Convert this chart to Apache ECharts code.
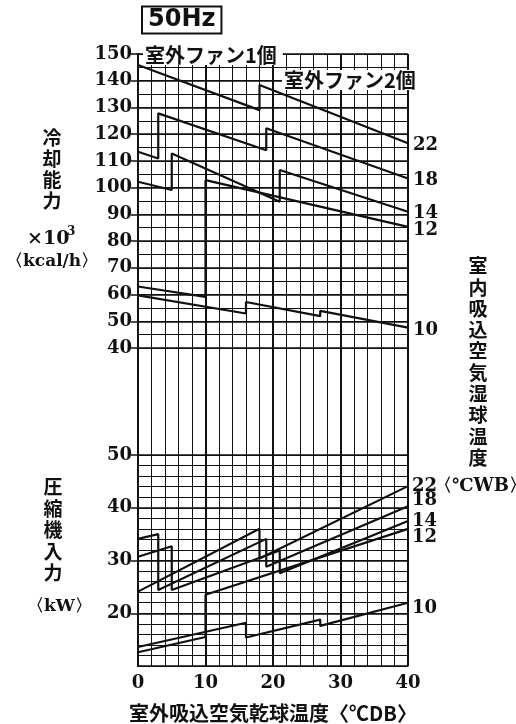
<!DOCTYPE html>
<html>
<head>
<meta charset="utf-8">
<script src="https://cdn.jsdelivr.net/npm/echarts@6/dist/echarts.min.js"></script>
<style>
  html, body { margin: 0; padding: 0; background: #fff; }
  #chart { width: 516px; height: 724px; }
</style>
</head>
<body>
<div id="chart"></div>
<script>
// Outdoor intake dry-bulb temperature (°CDB)
const xTicks = [0, 10, 20, 30, 40];

// Cooling capacity (×10^3 kcal/h) per indoor wet-bulb temperature, [°CDB, value]
const cap22 = [[0, 145.9], [18, 129.0], [18, 138.4], [40, 116.6]];
const cap18 = [[0, 113.4], [3, 110.9], [3, 127.8], [19, 114.0], [19, 122.2], [40, 103.4]];
const cap14 = [[0, 102.2], [5, 99.1], [5, 112.8], [21, 94.7], [21, 106.6], [40, 91.0]];
const cap12 = [[0, 63.0], [10, 59.1], [10, 102.8], [40, 85.3]];
const cap10 = [[0, 59.7], [16, 52.9], [16, 57.2], [27, 51.9], [27, 53.9], [40, 47.6]];

// Compressor input (kW) per indoor wet-bulb temperature, [°CDB, value]
const pow22 = [[0, 24.1], [18, 36.0], [18, 30.4], [40, 44.1]];
const pow18 = [[0, 34.1], [3, 35.0], [3, 24.4], [19, 34.1], [19, 28.8], [40, 40.3]];
const pow14 = [[0, 30.7], [5, 32.7], [5, 24.4], [21, 31.9], [21, 27.6], [40, 37.5]];
const pow12 = [[0, 12.6], [10, 15.5], [10, 23.5], [40, 36.0]];
const pow10 = [[0, 13.6], [16, 18.2], [16, 15.4], [27, 18.8], [27, 17.6], [40, 22.0]];

const capTicks = [150, 140, 130, 120, 110, 100, 90, 80, 70, 60, 50, 40];
const powTicks = [50, 40, 30, 20];
const wbLabels = ['22', '18', '14', '12', '10'];

const INK = '#111';
const NUM_FONT = 'DejaVu Serif';
const JP_FONT = 'Noto Sans CJK JP';

const chart = echarts.init(document.getElementById('chart'), null, { renderer: 'canvas' });

const G = { left: 138, width: 270 };
const grids = [
  { left: G.left, width: G.width, top: 54, height: 294 },   // capacity
  { left: G.left, width: G.width, top: 348, height: 107 },  // spacer between panels
  { left: G.left, width: G.width, top: 455, height: 214 }   // compressor input
];

function xPair(gridIndex, withLabels) {
  return [
    {
      type: 'value', gridIndex, position: 'bottom', min: 0, max: 40, interval: 2,
      axisLine: { show: false }, axisTick: { show: false }, axisLabel: { show: false },
      splitLine: { show: true, lineStyle: { color: INK, width: 1 } }
    },
    {
      type: 'value', gridIndex, position: 'bottom', min: 0, max: 40, interval: 10,
      axisLine: { show: withLabels, onZero: false, lineStyle: { color: INK, width: 1.5 } },
      axisTick: { show: false },
      axisLabel: {
        show: withLabels, margin: 8, color: INK,
        fontFamily: NUM_FONT, fontWeight: 'bold', fontSize: 18,
        customValues: xTicks
      },
      splitLine: { show: true, lineStyle: { color: INK, width: 2 } },
      name: withLabels ? '室外吸込空気乾球温度〈℃DB〉' : '',
      nameLocation: 'middle', nameGap: 37,
      nameTextStyle: { color: INK, fontFamily: JP_FONT, fontWeight: 'bold', fontSize: 20 }
    }
  ];
}

const xAxis = [].concat(xPair(0, false), xPair(1, false), xPair(2, true));

const yAxis = [
  // capacity panel: fine grid every 5, labels every 10
  {
    type: 'value', gridIndex: 0, position: 'left', min: 40, max: 150, interval: 5,
    axisLine: { show: false }, axisTick: { show: false }, axisLabel: { show: false },
    splitLine: { show: true, lineStyle: { color: INK, width: 1 } }
  },
  {
    type: 'value', gridIndex: 0, position: 'left', min: 40, max: 150, interval: 10,
    axisLine: { show: true, onZero: false, lineStyle: { color: INK, width: 2 } },
    axisTick: { show: true, length: 7, lineStyle: { color: INK, width: 1.5 }, customValues: capTicks },
    axisLabel: {
      margin: 6, color: INK, fontFamily: NUM_FONT, fontWeight: 'bold', fontSize: 18,
      customValues: capTicks
    },
    splitLine: { show: true, lineStyle: { color: INK, width: 1.6 } }
  },
  // spacer: only the left axis line continues
  {
    type: 'value', gridIndex: 1, position: 'left', min: 0, max: 1,
    axisLine: { show: true, onZero: false, lineStyle: { color: INK, width: 2 } },
    axisTick: { show: false }, axisLabel: { show: false }, splitLine: { show: false }
  },
  // compressor panel: fine grid every 2, labels every 10
  {
    type: 'value', gridIndex: 2, position: 'left', min: 10, max: 50, interval: 2,
    axisLine: { show: false }, axisTick: { show: false }, axisLabel: { show: false },
    splitLine: { show: true, lineStyle: { color: INK, width: 1 } }
  },
  {
    type: 'value', gridIndex: 2, position: 'left', min: 10, max: 50, interval: 10,
    axisLine: { show: true, onZero: false, lineStyle: { color: INK, width: 2 } },
    axisTick: { show: true, length: 7, lineStyle: { color: INK, width: 1.5 }, customValues: powTicks },
    axisLabel: {
      margin: 6, color: INK, fontFamily: NUM_FONT, fontWeight: 'bold', fontSize: 18,
      customValues: powTicks
    },
    splitLine: { show: true, lineStyle: { color: INK, width: 1.6 } }
  }
];

function curve(data, xi, yi) {
  return {
    type: 'line', data, xAxisIndex: xi, yAxisIndex: yi,
    symbol: 'none', silent: true, animation: false, clip: true,
    lineStyle: { color: INK, width: 2.2 }
  };
}

const series = [
  curve(cap22, 1, 1), curve(cap18, 1, 1), curve(cap14, 1, 1), curve(cap12, 1, 1), curve(cap10, 1, 1),
  curve(pow22, 5, 4), curve(pow18, 5, 4), curve(pow14, 5, 4), curve(pow12, 5, 4), curve(pow10, 5, 4)
];

function txt(text, x, y, size, opts) {
  return {
    type: 'text', x, y, z: 100,
    style: Object.assign({
      text, fill: INK, fontSize: size, fontFamily: NUM_FONT, fontWeight: 'bold',
      align: 'left', verticalAlign: 'middle'
    }, opts || {})
  };
}

function vertical(text, cx, y0, step, size) {
  return text.split('').map((ch, i) => txt(ch, cx, y0 + i * step, size, {
    fontFamily: JP_FONT, align: 'center'
  }));
}

const capLabelY = [145, 180, 213, 230, 330];
const powLabelY = [486, 500, 521, 537, 608];

const graphic = [
  // frequency badge
  txt('50Hz', 143, 20, 24, {
    fontFamily: 'DejaVu Sans', fontWeight: 'bold',
    borderColor: INK, borderWidth: 2, padding: [1, 5, 0, 5], backgroundColor: '#fff'
  }),
  // fan count annotations, set over the grid on a white ground
  txt('室外ファン1個', 143, 55, 20, {
    fontFamily: JP_FONT, backgroundColor: '#fff', padding: [0, 6, 0, 2]
  }),
  txt('室外ファン2個', 282, 80, 20, {
    fontFamily: JP_FONT, backgroundColor: '#fff', padding: [0, 0, 0, 2]
  }),
  // left axis titles
  ...vertical('冷却能力', 52, 138, 21, 19),
  txt('×10', 27, 239, 19, { fontFamily: NUM_FONT }),
  txt('3', 67, 232, 12, { fontFamily: NUM_FONT }),
  txt('〈kcal/h〉', 6, 262, 17, { fontFamily: NUM_FONT }),
  ...vertical('圧縮機入力', 53, 487, 21.5, 19),
  txt('〈kW〉', 27, 607, 17, { fontFamily: NUM_FONT }),
  // right axis title
  ...vertical('室内吸込空気湿球温度', 478, 266, 21.3, 19),
  txt('〈℃WB〉', 434, 486, 18, { fontFamily: NUM_FONT })
];

wbLabels.forEach((t, i) => {
  graphic.push(txt(t, 413, capLabelY[i], 18, { fontFamily: NUM_FONT }));
  graphic.push(txt(t, 412, powLabelY[i], 18, { fontFamily: NUM_FONT }));
});

chart.setOption({
  backgroundColor: '#fff',
  animation: false,
  grid: grids,
  xAxis,
  yAxis,
  series,
  graphic
});
</script>
</body>
</html>
